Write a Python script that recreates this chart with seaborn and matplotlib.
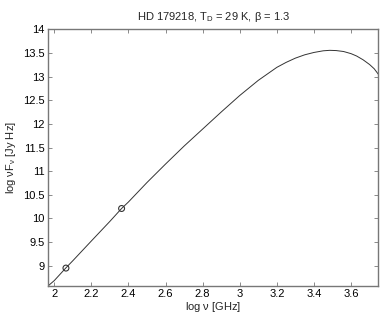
import matplotlib
matplotlib.use("Agg")
import matplotlib.pyplot as plt
import seaborn as sns
import pandas as pd

# SED curve
log_nu = [1.968, 2.0, 2.063, 2.1, 2.2, 2.3, 2.363, 2.4, 2.5, 2.6, 2.7, 2.8,
          2.9, 3.0, 3.1, 3.2, 3.25, 3.3, 3.35, 3.4, 3.45, 3.485, 3.52, 3.56,
          3.6, 3.63, 3.665, 3.7, 3.725, 3.747]
log_nuFnu = [8.577, 8.685, 8.955, 9.105, 9.523, 9.938, 10.21, 10.348, 10.76, 11.15,
             11.53, 11.89, 12.25, 12.60, 12.92, 13.195, 13.30, 13.39, 13.46, 13.51,
             13.545, 13.555, 13.55, 13.53, 13.485, 13.435, 13.355, 13.255, 13.165, 13.05]

# observed data points
obs_log_nu = [2.063, 2.363]
obs_log_nuFnu = [8.95, 10.21]

x_ticks = [2.0, 2.2, 2.4, 2.6, 2.8, 3.0, 3.2, 3.4, 3.6]
x_tick_labels = ["2", "2.2", "2.4", "2.6", "2.8", "3", "3.2", "3.4", "3.6"]
y_ticks = [9, 9.5, 10, 10.5, 11, 11.5, 12, 12.5, 13, 13.5, 14]
y_tick_labels = ["9", "9.5", "10", "10.5", "11", "11.5", "12", "12.5", "13", "13.5", "14"]

sns.set_style("ticks")
plt.rcParams["font.family"] = ["Liberation Sans", "DejaVu Sans"]
plt.rcParams["mathtext.fontset"] = "custom"
plt.rcParams["mathtext.rm"] = "Liberation Sans"
plt.rcParams["mathtext.it"] = "Liberation Sans"
plt.rcParams["mathtext.default"] = "regular"

curve = pd.DataFrame({"x": log_nu, "y": log_nuFnu})
obs = pd.DataFrame({"x": obs_log_nu, "y": obs_log_nuFnu})

fig = plt.figure(figsize=(3.82, 3.17), dpi=100)
ax = fig.add_axes([0.1265, 0.0987, 0.8638, 0.8089])

sns.lineplot(data=curve, x="x", y="y", ax=ax, color="#333333", linewidth=0.7,
             sort=False)
sns.scatterplot(data=obs, x="x", y="y", ax=ax, marker="o", s=18,
                facecolor="none", edgecolor="#333333", linewidth=0.8, zorder=3)

ax.set_xlim(1.968, 3.747)
ax.set_ylim(8.577, 14.0)
ax.set_xticks(x_ticks)
ax.set_xticklabels(x_tick_labels)
ax.set_yticks(y_ticks)
ax.set_yticklabels(y_tick_labels)
ax.tick_params(direction="in", length=3, width=0.6, colors="#777777",
               labelcolor="black", labelsize=8, top=True, right=True, pad=2.5)
for s in ax.spines.values():
    s.set_visible(True)
    s.set_color("#777777")
    s.set_linewidth(1.0)

ax.set_xlabel(r"log $\nu$ [GHz]", fontsize=8, labelpad=0.5)
ax.set_ylabel(r"log $\nu F_{\nu}$ [Jy Hz]", fontsize=8, labelpad=4)
ax.set_title(r"HD 179218, T$_{D}$ = 29 K, $\beta$ = 1.3", fontsize=8, pad=7)

fig.savefig("out.png", dpi=100)
